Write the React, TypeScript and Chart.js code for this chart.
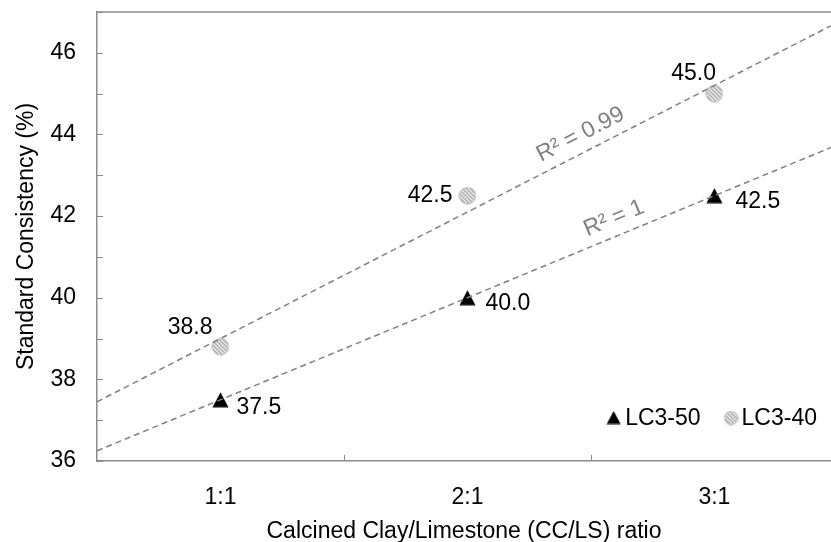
import { useEffect, useRef } from 'react';
import { Chart, registerables } from 'chart.js';
Chart.register(...registerables);

const categories = ['1:1', '2:1', '3:1'];
const categoryPositions = [1, 2, 3];
const lc350Values = [37.5, 40.0, 42.5];
const lc340Values = [38.8, 42.5, 45.0];
const seriesNames = ['LC3-50', 'LC3-40'];
const yLabelValues = [36, 38, 40, 42, 44, 46];
const r2Texts = ['R² = 1', 'R² = 0.99'];

const FONT = "'Liberation Sans', Arial, sans-serif";
const FS = 23;
const TEXT = '#000000';
const GRAY = '#808080';
const AXIS = '#8c8c8c';
const X_MIN = 0.5;
const X_MAX = 3.472;

function linfit(xs: number[], ys: number[]) {
  const n = xs.length;
  const mx = xs.reduce((a, b) => a + b, 0) / n;
  const my = ys.reduce((a, b) => a + b, 0) / n;
  let sxy = 0, sxx = 0;
  for (let i = 0; i < n; i++) { sxy += (xs[i] - mx) * (ys[i] - my); sxx += (xs[i] - mx) ** 2; }
  const m = sxy / sxx;
  return { m, b: my - m * mx };
}

function makeHatch(size: number) {
  const c = document.createElement('canvas');
  c.width = size; c.height = size;
  const g = c.getContext('2d')!;
  const r = size / 2 - 0.8;
  g.save();
  g.beginPath(); g.arc(size / 2, size / 2, r, 0, Math.PI * 2); g.closePath();
  g.fillStyle = '#ffffff'; g.fill();
  g.clip();
  g.strokeStyle = '#9a9a9a'; g.lineWidth = 1.4;
  for (let k = -size; k < size * 2; k += 4) {
    g.beginPath(); g.moveTo(k, 0); g.lineTo(k + size, size); g.stroke();
  }
  g.restore();
  g.beginPath(); g.arc(size / 2, size / 2, r, 0, Math.PI * 2);
  g.strokeStyle = '#b4b4b4'; g.lineWidth = 1; g.stroke();
  return c;
}

function makeTriangle(w: number, h: number) {
  const c = document.createElement('canvas');
  c.width = w; c.height = h;
  const g = c.getContext('2d')!;
  g.fillStyle = '#000';
  g.beginPath(); g.moveTo(w / 2, 0.5); g.lineTo(w - 0.5, h - 0.5); g.lineTo(0.5, h - 0.5); g.closePath();
  g.fill();
  return c;
}

export default function App() {
  const ref = useRef<HTMLCanvasElement>(null);
  useEffect(() => {
    document.body.style.margin = '0';
    const hatch = makeHatch(18);
    const hatchSmall = makeHatch(15);
    const tri = makeTriangle(17, 16);
    const triSmall = makeTriangle(15, 14);
    const fit50 = linfit(categoryPositions, lc350Values);
    const fit40 = linfit(categoryPositions, lc340Values);
    const trend = (f: { m: number; b: number }) => [
      { x: X_MIN, y: f.b + f.m * X_MIN },
      { x: X_MAX, y: f.b + f.m * X_MAX },
    ];
    const labelCfg = [
      { align: 'left', offsets: [[16, 7.5], [18, 6], [21, 6]] },
      { align: 'right', offsets: [[-8, -19.5], [-15, 0], [1.5, -19.5]] },
    ];

    const plugin = {
      id: 'decor',
      afterDatasetsDraw(chart: any) {
        const ctx = chart.ctx;
        const { left, right, top, bottom } = chart.chartArea;
        const xs = chart.scales.x, ys = chart.scales.y;
        ctx.save();
        // top border
        ctx.strokeStyle = AXIS; ctx.lineWidth = 1.5;
        ctx.beginPath(); ctx.moveTo(left, top); ctx.lineTo(right + 2, top); ctx.stroke();
        // inward ticks
        ctx.lineWidth = 1;
        ys.ticks.forEach((t: any) => {
          const y = Math.round(ys.getPixelForValue(t.value)) + 0.5;
          ctx.beginPath(); ctx.moveTo(left, y); ctx.lineTo(left + 6, y); ctx.stroke();
        });
        xs.ticks.forEach((t: any) => {
          if (Number.isInteger(t.value)) return;
          const x = Math.round(xs.getPixelForValue(t.value)) + 0.5;
          ctx.beginPath(); ctx.moveTo(x, bottom); ctx.lineTo(x, bottom - 6); ctx.stroke();
        });
        // data labels
        ctx.font = `${FS}px ${FONT}`;
        ctx.fillStyle = TEXT;
        ctx.textBaseline = 'middle';
        [2, 3].forEach((di, s) => {
          const meta = chart.getDatasetMeta(di);
          const vals = s === 0 ? lc350Values : lc340Values;
          meta.data.forEach((p: any, i: number) => {
            ctx.textAlign = labelCfg[s].align;
            const [dx, dy] = labelCfg[s].offsets[i];
            ctx.fillText(vals[i].toFixed(1), p.x + dx, p.y + dy);
          });
        });
        // R² labels along trendlines
        ctx.fillStyle = GRAY;
        const r2 = (f: { m: number; b: number }, xv: number, text: string, gap: number) => {
          const x0 = xs.getPixelForValue(xv), y0 = ys.getPixelForValue(f.b + f.m * xv);
          const x1 = xs.getPixelForValue(xv + 1), y1 = ys.getPixelForValue(f.b + f.m * (xv + 1));
          const ang = Math.atan2(y1 - y0, x1 - x0);
          ctx.save();
          ctx.translate(x0, y0); ctx.rotate(ang);
          ctx.textAlign = 'center'; ctx.textBaseline = 'alphabetic';
          ctx.fillText(text, 0, -gap);
          ctx.restore();
        };
        r2(fit50, 2.62, r2Texts[0], 11);
        r2(fit40, 2.49, r2Texts[1], 11);
        // legend
        ctx.font = `${FS}px ${FONT}`;
        ctx.fillStyle = TEXT;
        ctx.textBaseline = 'middle';
        ctx.textAlign = 'left';
        const ly = bottom - 43.5;
        const w1 = ctx.measureText(seriesNames[0]).width;
        const w2 = ctx.measureText(seriesNames[1]).width;
        const t2x = right - 14 - w2;
        const c2l = t2x - 3 - 15;
        const t1x = c2l - 23 - w1;
        const trl = t1x - 4 - 15;
        ctx.fillText(seriesNames[1], t2x, ly + 1);
        ctx.fillText(seriesNames[0], t1x, ly + 1);
        ctx.drawImage(hatchSmall, c2l, ly - 7);
        ctx.drawImage(triSmall, trl, ly - 7);
        ctx.restore();
      },
    };

    const chart = new Chart(ref.current!, {
      type: 'scatter',
      data: {
        datasets: [
          { type: 'line', label: 'trend50', data: trend(fit50), borderColor: GRAY, borderWidth: 1.5, borderDash: [6, 4], pointRadius: 0, fill: false } as any,
          { type: 'line', label: 'trend40', data: trend(fit40), borderColor: GRAY, borderWidth: 1.5, borderDash: [6, 4], pointRadius: 0, fill: false } as any,
          { label: seriesNames[0], data: categoryPositions.map((x, i) => ({ x, y: lc350Values[i] })), pointStyle: tri, pointRadius: 9 },
          { label: seriesNames[1], data: categoryPositions.map((x, i) => ({ x, y: lc340Values[i] })), pointStyle: hatch, pointRadius: 9 },
        ],
      },
      options: {
        animation: false,
        responsive: false,
        maintainAspectRatio: false,
        layout: { autoPadding: false, padding: { top: 12, right: 0, left: 0, bottom: 0 } },
        plugins: { legend: { display: false }, tooltip: { enabled: false } },
        scales: {
          x: {
            type: 'linear', min: X_MIN, max: X_MAX,
            afterBuildTicks: (s: any) => { s.ticks = [1, 1.5, 2, 2.5, 3].map((v) => ({ value: v })); },
            afterFit: (s: any) => { s.height = 81; s.paddingLeft = 0; s.paddingRight = 0; },
            ticks: {
              padding: 23, color: TEXT, font: { family: FONT, size: FS }, maxRotation: 0, autoSkip: false,
              callback: (v: any) => (Number.isInteger(v) ? categories[categoryPositions.indexOf(v)] : ''),
            },
            grid: { display: false, drawTicks: false },
            border: { display: true, color: AXIS, width: 1.5 },
            title: { display: true, text: 'Calcined Clay/Limestone (CC/LS) ratio', color: TEXT, font: { family: FONT, size: FS }, padding: { top: 0, bottom: -3 } },
          },
          y: {
            min: 36, max: 47,
            afterFit: (s: any) => { s.width = 97; s.paddingTop = 0; s.paddingBottom = 0; },
            ticks: {
              stepSize: 1, padding: 21, color: TEXT, font: { family: FONT, size: FS }, autoSkip: false,
              callback: (v: any) => (yLabelValues.includes(v) ? String(v) : ''),
            },
            grid: { display: false, drawTicks: false },
            border: { display: true, color: AXIS, width: 1.5 },
            title: { display: true, text: 'Standard Consistency (%)', color: TEXT, font: { family: FONT, size: FS }, padding: { top: 13, bottom: 0 } },
          },
        },
      },
      plugins: [plugin],
    });
    return () => chart.destroy();
  }, []);
  return (
    <div style={{ position: 'absolute', left: 0, top: 0, width: 831, height: 542 }}>
      <canvas ref={ref} width={831} height={542} style={{ width: 831, height: 542, display: 'block' }} />
    </div>
  );
}
